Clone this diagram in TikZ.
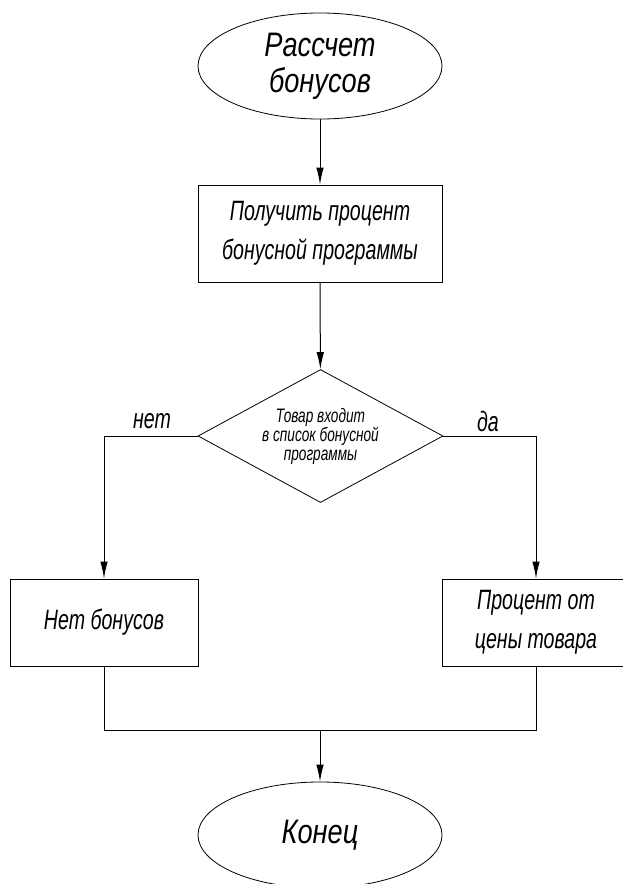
\documentclass[tikz,border=0pt]{standalone}
\usepackage{fontspec}
\newfontfamily\gost{Liberation Sans}[FakeStretch=0.7]
\newfontfamily\gostw{Liberation Sans}[FakeStretch=0.8]
\usetikzlibrary{shapes.geometric,arrows.meta}
\begin{document}
\begin{tikzpicture}[x=1pt,y=-1pt,
  every node/.style={font=\gost\itshape},
  ln/.style={line width=1pt},
  arr/.style={ln,-{Latex[length=17pt,width=7.5pt]}},
  term/.style={draw,line width=0.8pt,ellipse,minimum width=244pt,minimum height=106pt,inner sep=0pt,align=center},
  proc/.style={draw,ln,rectangle,inner sep=0pt,align=center},
  dia/.style={draw,line width=0.8pt,diamond,aspect=1.85,inner sep=0pt,minimum width=245pt,minimum height=133pt,align=center},
  big/.style={font=\gostw\itshape\fontsize{34}{36}\selectfont},
  mid/.style={font=\gost\itshape\fontsize{28}{38.5}\selectfont},
  sml/.style={font=\gost\itshape\fontsize{19.5}{19}\selectfont}]
\useasboundingbox (0,0) rectangle (623,884);
\node[term,big] (start) at (320,66) {Рассчет\\бонусов};
\node[proc,mid,minimum width=244pt,minimum height=97pt] (box1) at (320,233.5) {Получить процент\\бонусной программы};
\node[dia,sml] (dec) at (320.5,436) {Товар входит\\в список бонусной\\программы};
\node[proc,mid,minimum width=188pt,minimum height=87pt] (no) at (104,622.5) {Нет бонусов};
\node[proc,mid,minimum width=188pt,minimum height=87pt] (yes) at (536,622.5) {Процент от\\цены товара};
\node[term,big] (end) at (320,835) {Конец};
\node[mid] (lno) at (152,421) {нет};
\node[mid] (lyes) at (488,421) {да};
\coordinate (m) at (320,730);
\draw[arr] (start) -- (box1);
\draw[arr] (box1) -- (dec);
\draw[arr] (dec.west) -| (no.north);
\draw[arr] (dec.east) -| (yes.north);
\draw[ln] (no.south) |- (m) -| (yes.south);
\draw[arr] (m) -- (end);
\end{tikzpicture}
\end{document}
